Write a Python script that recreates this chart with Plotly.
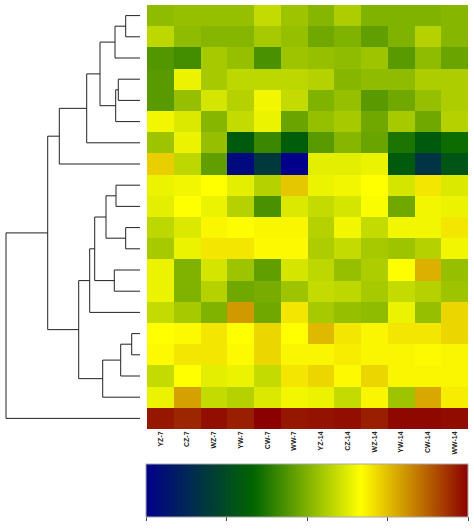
"""
Clustered heatmap with row dendrogram and horizontal colour key (heatmap.2 style).
"""

import plotly.graph_objects as go

# ── Data ────────────────────────────────────────────────────────────────
samples = ["YZ-7", "CZ-7", "WZ-7", "YW-7", "CW-7", "WW-7",
           "YZ-14", "CZ-14", "WZ-14", "YW-14", "CW-14", "WW-14"]

# rows listed top to bottom, in dendrogram leaf order
values = [
    [0.52, 0.53, 0.53, 0.53, 0.59, 0.54, 0.51, 0.56, 0.50, 0.50, 0.50, 0.51],
    [0.58, 0.52, 0.51, 0.51, 0.55, 0.53, 0.48, 0.50, 0.46, 0.50, 0.57, 0.51],
    [0.44, 0.42, 0.55, 0.53, 0.43, 0.54, 0.53, 0.52, 0.54, 0.45, 0.52, 0.47],
    [0.45, 0.64, 0.55, 0.58, 0.58, 0.58, 0.57, 0.51, 0.52, 0.52, 0.56, 0.56],
    [0.45, 0.53, 0.61, 0.57, 0.65, 0.59, 0.50, 0.53, 0.45, 0.48, 0.53, 0.56],
    [0.65, 0.62, 0.51, 0.59, 0.64, 0.47, 0.53, 0.55, 0.48, 0.55, 0.48, 0.57],
    [0.54, 0.64, 0.53, 0.30, 0.41, 0.31, 0.45, 0.51, 0.47, 0.37, 0.30, 0.35],
    [0.73, 0.58, 0.46, 0.03, 0.19, 0.00, 0.63, 0.63, 0.64, 0.30, 0.17, 0.28],
    [0.64, 0.65, 0.667, 0.63, 0.57, 0.74, 0.64, 0.65, 0.667, 0.61, 0.70, 0.62],
    [0.63, 0.667, 0.64, 0.57, 0.43, 0.62, 0.59, 0.61, 0.66, 0.48, 0.65, 0.64],
    [0.58, 0.62, 0.68, 0.67, 0.68, 0.68, 0.57, 0.65, 0.59, 0.65, 0.65, 0.70],
    [0.55, 0.64, 0.70, 0.70, 0.675, 0.675, 0.56, 0.59, 0.55, 0.54, 0.57, 0.65],
    [0.64, 0.50, 0.61, 0.54, 0.46, 0.61, 0.58, 0.53, 0.56, 0.665, 0.77, 0.53],
    [0.64, 0.50, 0.57, 0.48, 0.49, 0.54, 0.59, 0.58, 0.55, 0.59, 0.57, 0.54],
    [0.59, 0.55, 0.50, 0.80, 0.48, 0.70, 0.55, 0.53, 0.52, 0.64, 0.53, 0.72],
    [0.667, 0.675, 0.70, 0.667, 0.72, 0.667, 0.76, 0.70, 0.68, 0.70, 0.70, 0.72],
    [0.675, 0.70, 0.70, 0.675, 0.72, 0.68, 0.68, 0.69, 0.68, 0.68, 0.675, 0.68],
    [0.59, 0.667, 0.63, 0.64, 0.59, 0.70, 0.72, 0.675, 0.72, 0.68, 0.68, 0.68],
    [0.64, 0.79, 0.59, 0.57, 0.62, 0.65, 0.64, 0.59, 0.68, 0.54, 0.78, 0.69],
    [0.97, 0.95, 0.98, 0.96, 1.00, 0.97, 0.975, 0.98, 0.96, 0.99, 0.99, 0.985],
]

# row clustering: (left, right, height); ids < 20 are leaves, >= 20 are merges
merges = [
    (0, 1, 14.3),
    (20, 2, 25.0),
    (3, 4, 21.7),
    (22, 5, 24.3),
    (21, 23, 40.0),
    (24, 6, 53.3),
    (25, 7, 80.7),
    (8, 9, 24.0),
    (10, 11, 14.3),
    (27, 28, 34.0),
    (12, 13, 25.7),
    (29, 30, 45.3),
    (31, 14, 50.3),
    (15, 16, 8.3),
    (33, 17, 19.3),
    (34, 18, 37.3),
    (32, 35, 61.3),
    (26, 36, 92.3),
    (37, 19, 134.0),
]

key_ticks = [0, 0.25, 0.5, 0.75, 1.0]

palette = [
    [0.0, "#00008B"],     # darkblue
    [1 / 3, "#006400"],   # darkgreen
    [2 / 3, "#FFFF00"],   # yellow
    [1.0, "#8B0000"],     # darkred
]

# ── Dendrogram segments ─────────────────────────────────────────────────
n_rows = len(values)
pos = {i: (float(i), 0.0) for i in range(n_rows)}
dx, dy = [], []
for k, (a, b, h) in enumerate(merges):
    ya, ha = pos[a]
    yb, hb = pos[b]
    # elbow: child -> merge height, across, down to the other child
    dx += [ha, h, h, hb, None]
    dy += [ya, ya, yb, yb, None]
    pos[n_rows + k] = ((ya + yb) / 2, h)

W, H = 474, 531
ML, MR, MT, MB = 0, 6, 5, 9
plot_w = W - ML - MR
plot_h = H - MT - MB

fig = go.Figure()

fig.add_trace(go.Heatmap(
    z=values,
    x=list(range(len(samples))),
    y=list(range(n_rows)),
    zmin=0, zmax=1,
    colorscale=palette,
    xaxis="x", yaxis="y",
    colorbar=dict(
        orientation="h",
        x=(146 + 468) / 2 / plot_w, xanchor="center",
        y=(H - MB - 522) / plot_h, yanchor="bottom",
        lenmode="pixels", len=322,
        thickness=53,
        xpad=0, ypad=0,
        outlinewidth=1, outlinecolor="#a8a8a8",
        tickvals=key_ticks,
        ticks="outside", ticklen=4, tickcolor="#444",
        showticklabels=False,
    ),
    hovertemplate="%{x}<br>row %{y}<br>%{z:.2f}<extra></extra>",
))

fig.add_trace(go.Scatter(
    x=dx, y=dy,
    mode="lines",
    line=dict(color="#222222", width=1),
    xaxis="x2", yaxis="y",
    hoverinfo="skip",
    showlegend=False,
))

fig.update_layout(
    width=W, height=H,
    margin=dict(l=ML, r=MR, t=MT, b=MB, autoexpand=False),
    paper_bgcolor="white",
    plot_bgcolor="white",
    showlegend=False,
    font=dict(family="Liberation Sans, Arial, sans-serif", color="black"),
    xaxis=dict(
        domain=[147 / plot_w, 1],
        range=[-0.5, len(samples) - 0.5],
        tickvals=list(range(len(samples))),
        ticktext=[f"<b>{s}</b>" for s in samples],
        tickangle=-90,
        tickfont=dict(size=7, color="#222"),
        ticks="", showgrid=False, zeroline=False,
        showline=False, automargin=False,
    ),
    yaxis=dict(
        domain=[(H - MB - 429) / plot_h, 1],
        range=[n_rows - 0.5, -0.5],
        showticklabels=False, ticks="",
        showgrid=False, zeroline=False, automargin=False,
    ),
    xaxis2=dict(
        domain=[0, 140 / plot_w],
        range=[140, 0],
        anchor="y",
        showticklabels=False, ticks="",
        showgrid=False, zeroline=False, showline=False,
    ),
)

# page has a default 8px body margin; drop it so the figure fills the window
fig.write_html(
    "out.html",
    config={"displayModeBar": False},
    post_script="document.body.style.margin = '0';",
)
